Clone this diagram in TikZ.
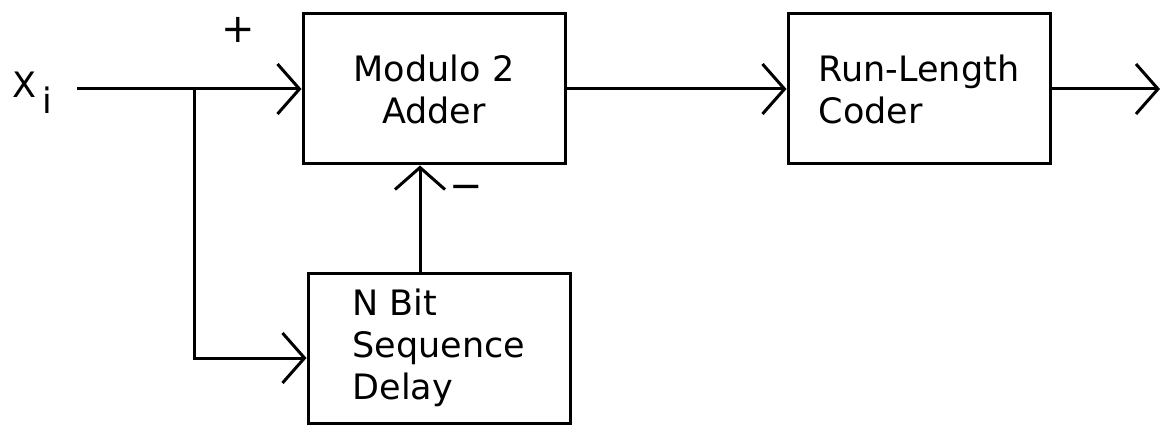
\documentclass[tikz,border=0pt]{standalone}
\usepackage{fontspec}
\setmainfont{DejaVu Sans}
\usetikzlibrary{arrows.meta}
\begin{document}
\begin{tikzpicture}[x=1pt, y=-1pt,
        block/.style={draw, line width=3pt, minimum width=262pt, minimum height=150pt,
            inner sep=0pt, font=\fontsize{35}{42}\selectfont},
        sig/.style={line width=3pt, -{Straight Barb[length=22pt, width=50pt]}},
        sign/.style={font=\fontsize{40}{46}\selectfont, inner sep=0pt}]
        \useasboundingbox (0, 0) rectangle (1163, 425);

        % Blocks
        \node[block, align=center] (adder) at (434, 89) {Modulo 2\\Adder};
        \node[block, align=left] (rlc) at (919, 89) {Run-Length\\Coder};
        \node[block, align=left] (delay) at (439, 348) {N Bit\\Sequence\\Delay};

        % Input x_i, branch point and output end
        \node[anchor=base west, inner sep=0pt, font=\fontsize{35}{42}\selectfont] (xi) at (12, 98) {X\,\raisebox{-0.43em}{i}};
        \coordinate (in) at (77, 89);
        \coordinate (split) at (194, 89);
        \coordinate (out) at (1160, 89);

        \draw[sig] (in) -- (adder.west);
        \draw[sig] (split) |- ([yshift=-10pt]delay.west);
        \draw[sig] (adder.east) -- (rlc.west);
        \draw[sig] (rlc.east) -- (out);

        % Feedback from the delay
        \draw[sig] ([xshift=-19pt]delay.north) -- ([xshift=-19pt]delay.north |- adder.south);

        % Signs at the adder inputs
        \node[sign] (plus) at (238, 30) {+};
        \node[sign] (minus) at (466, 192) {−};
    \end{tikzpicture}
\end{document}
